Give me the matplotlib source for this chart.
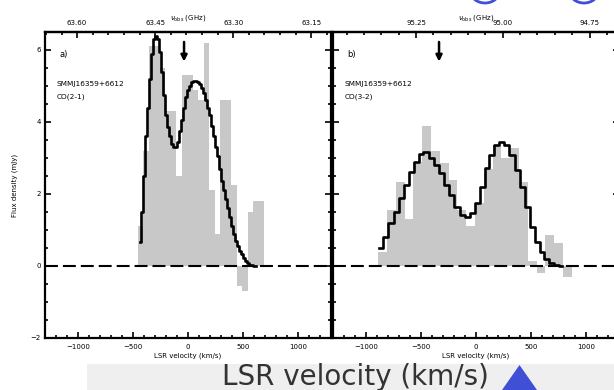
import numpy as np
import matplotlib
matplotlib.use("Agg")
import matplotlib.pyplot as plt
from matplotlib.ticker import MultipleLocator, FormatStrFormatter
from matplotlib.patches import Rectangle, Polygon, Ellipse

# ---- data ----
# a) CO(2-1): channel spectrum (gray) and model fit (black)
vel_21 = [-430, -380, -330, -280, -230, -180, -130, -80, -30, 20, 70, 120,
          170, 220, 270, 320, 370, 420, 470, 520, 570, 620, 670]
flux_21 = [1.1, 3.2, 6.1, 6.1, 5.5, 4.3, 4.3, 2.5, 5.3, 5.3, 4.9, 4.6,
           6.2, 2.1, 0.9, 4.6, 4.6, 2.25, -0.55, -0.7, 1.5, 1.8, 1.8]
fit_v_21 = [-436, -418, -400, -382, -364, -345, -327, -309, -291, -273, -255,
            -236, -218, -200, -182, -164, -145, -127, -109, -91, -73, -55,
            -36, -18, 0, 18, 36, 55, 73, 91, 109, 127, 145, 164, 182, 200,
            218, 236, 255, 273, 291, 309, 327, 345, 364, 382, 400, 418, 436,
            455, 473, 491, 509, 527, 545, 564, 582, 600, 618]
fit_f_21 = [0.67, 1.5, 2.5, 3.6, 4.4, 5.2, 5.9, 6.3, 6.4, 6.3, 5.95,
            5.4, 4.75, 4.2, 3.85, 3.6, 3.4, 3.3, 3.3, 3.45, 3.75, 4.05,
            4.4, 4.7, 4.9, 5.0, 5.1, 5.15, 5.15, 5.1, 5.05, 4.95, 4.8, 4.6, 4.4, 4.2,
            3.9, 3.6, 3.3, 3.05, 2.7, 2.35, 2.1, 1.85, 1.6, 1.35, 1.1, 0.9, 0.7,
            0.55, 0.42, 0.32, 0.22, 0.14, 0.08, 0.04, 0.02, 0.0, 0.0]

# b) CO(3-2)
vel_32 = [-850, -770, -690, -610, -530, -450, -370, -290, -210, -130, -50,
          30, 110, 190, 270, 350, 430, 510, 590, 670, 750, 830]
flux_32 = [0.4, 1.55, 2.33, 1.3, 2.9, 3.9, 3.2, 2.85, 2.4, 1.55, 1.1,
           1.75, 2.7, 3.35, 3.0, 3.28, 2.33, 0.15, -0.2, 0.85, 0.64, -0.3]
fit_v_32 = [-882, -818, -773, -727, -682, -636, -591, -545, -500, -455, -400,
            -355, -309, -264, -218, -173, -127, -82, -36, 9, 55, 100, 145,
            191, 236, 282, 327, 373, 418, 464, 509, 555, 600, 645, 691, 736, 782]
fit_f_32 = [0.5, 0.8, 1.2, 1.5, 1.9, 2.25, 2.6, 2.9, 3.1, 3.17, 3.0,
            2.8, 2.58, 2.25, 1.97, 1.64, 1.42, 1.36, 1.47, 1.75, 2.2, 2.72, 3.08,
            3.36, 3.44, 3.36, 3.08, 2.67, 2.2, 1.64, 1.08, 0.67, 0.39, 0.2, 0.08, 0.02, 0.0]

freq_ticks_21 = [63.60, 63.45, 63.30, 63.15]
freq_ticks_32 = [95.50, 95.25, 95.00, 94.75]

C_KMS = 299792.458
Z = 2.637
NU0_21 = 230.538 / (1 + Z)
NU0_32 = 345.796 / (1 + Z)

fig = plt.figure(figsize=(6.14, 3.9), dpi=100)
ax1 = fig.add_axes([45/614, 52/390, 286/614, 306/390])
ax2 = fig.add_axes([333/614, 52/390, 286/614, 306/390])


def panel(ax, vel, flux, chan, fv, ff, nu0, fticks, fminor, tag, line, arrow_v):
    ax.bar(vel, flux, width=chan, color="#c8c8c8", edgecolor="none", zorder=1)
    ax.plot(fv, ff, drawstyle="steps-mid", color="black", lw=1.9, zorder=3)
    ax.axhline(0, color="black", lw=1.5, dashes=(6.2, 2.4), zorder=2)
    ax.set_xlim(-1300, 1300)
    ax.set_ylim(-2, 6.5)
    ax.xaxis.set_major_locator(MultipleLocator(500))
    ax.xaxis.set_minor_locator(MultipleLocator(100))
    ax.yaxis.set_major_locator(MultipleLocator(2))
    ax.yaxis.set_minor_locator(MultipleLocator(0.5))
    ax.tick_params(which="both", direction="in", bottom=True, top=False,
                   left=True, right=True, labelsize=5, width=1.2)
    ax.tick_params(which="major", length=4.5, pad=4.5)
    ax.tick_params(which="minor", length=2.2)
    for s in ax.spines.values():
        s.set_linewidth(1.6)
    ax.set_xlabel("LSR velocity (km/s)", fontsize=5, labelpad=1.5)

    sec = ax.secondary_xaxis("top", functions=(lambda v: nu0 * (1 - v / C_KMS),
                                               lambda nu: C_KMS * (1 - nu / nu0)))
    sec.set_xticks(fticks)
    sec.xaxis.set_minor_locator(MultipleLocator(fminor))
    sec.xaxis.set_major_formatter(FormatStrFormatter("%.2f"))
    sec.tick_params(which="both", direction="in", labelsize=5, width=1.2)
    sec.tick_params(which="major", length=4.5, pad=4.5)
    sec.tick_params(which="minor", length=2.2)
    sec.spines["top"].set_linewidth(1.6)
    sec.set_xlabel(r"$\nu_{\rm obs}$ (GHz)", fontsize=5, labelpad=0)

    ax.text(0.05, 0.925, tag, transform=ax.transAxes, fontsize=6, va="center")
    ax.text(0.04, 0.83, "SMMJ16359+6612", transform=ax.transAxes,
            fontsize=5.3, va="center")
    ax.text(0.04, 0.79, line, transform=ax.transAxes, fontsize=5.3, va="center")
    ax.annotate("", xy=(arrow_v, 5.6), xytext=(arrow_v, 6.3),
                arrowprops=dict(arrowstyle="-|>", color="black", lw=1.8,
                                mutation_scale=9))


panel(ax1, vel_21, flux_21, 50, fit_v_21, fit_f_21, NU0_21,
      freq_ticks_21, 0.03, "a)", "CO(2-1)", -36)
panel(ax2, vel_32, flux_32, 80, fit_v_32, fit_f_32, NU0_32,
      freq_ticks_32, 0.05, "b)", "CO(3-2)", -336)

ax1.set_ylabel("Flux density (mJy)", fontsize=5, labelpad=9)
ax1.tick_params(axis="y", pad=3)
ax2.tick_params(axis="y", labelleft=False)

# overlay marks on top of the scanned figure
fig.add_artist(Rectangle((87/614, 0), 1 - 87/614, 26/390, transform=fig.transFigure,
                         facecolor="#efefef", edgecolor="none", zorder=5))
fig.text(355/614, 13/390, "LSR velocity (km/s)", fontsize=20, color="#333333",
         ha="center", va="center", zorder=6)
fig.add_artist(Polygon([(502/614, 0), (537/614, 0), (519.5/614, 25/390)],
                       closed=True, transform=fig.transFigure,
                       facecolor="#3f4fd6", edgecolor="none", zorder=7))
for cx in (485, 584):
    fig.add_artist(Ellipse((cx/614, 1 + 8/390), 28/614, 22/390, transform=fig.transFigure,
                           facecolor="none", edgecolor="#3f4fd6", lw=2, zorder=7))

fig.savefig("out.png", dpi=100)
